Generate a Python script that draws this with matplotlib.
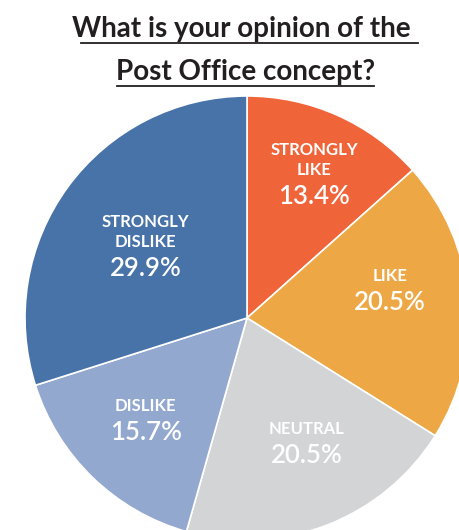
import numpy as np
import matplotlib.pyplot as plt

# Data
labels = ["STRONGLY\nLIKE", "LIKE", "NEUTRAL", "DISLIKE", "STRONGLY\nDISLIKE"]
shares = [13.4, 20.5, 20.5, 15.7, 29.9]
colors = ["#F0643A", "#EDA845", "#D3D4D6", "#93A8CF", "#4873A8"]
title_lines = ["What is your opinion of the", "Post Office concept?"]

# label placement: distance of the last label baseline (fraction of radius)
# and angle nudge from the wedge middle, in degrees
label_r = [0.711, 0.665, 0.588, 0.618, 0.557]
label_nudge = [-1, 9.6, 6, -3.4, 1.3]

plt.rcParams["font.family"] = ["Lato", "DejaVu Sans"]

fig = plt.figure(figsize=(4.59, 5.30), dpi=100)
W, H = 459, 530
cx, cy, R = 247, 318, 222
ax = fig.add_axes([(cx - R) / W, (H - cy - R) / H, 2 * R / W, 2 * R / H])

wedges, _ = ax.pie(shares, colors=colors, startangle=90, counterclock=False,
                   radius=1, wedgeprops=dict(edgecolor="white", linewidth=1.2))
ax.set_xlim(-1, 1)
ax.set_ylim(-1, 1)
ax.set_aspect("equal")
ax.axis("off")

pitch = 20.3 / R     # line pitch of the caption lines
gap = 29.0 / R       # caption baseline -> percent baseline
for w, lab, val, r, dn in zip(wedges, labels, shares, label_r, label_nudge):
    ang = np.deg2rad((w.theta1 + w.theta2) / 2 + dn)
    x, y = r * np.cos(ang), r * np.sin(ang)
    lines = lab.split("\n")
    for k, line in enumerate(lines):
        ax.text(x, y + (len(lines) - 1 - k) * pitch, line, ha="center",
                va="baseline", color="white", fontsize=12, fontweight="bold")
    ax.text(x, y - gap, f"{val}%", ha="center", va="baseline", color="white",
            fontsize=18.5, fontweight="semibold")

# Title with underlines
fig.text(241 / W, 1 - 37 / H, title_lines[0], ha="center", va="baseline",
         fontsize=20, fontweight="bold", color="#231F20")
fig.text(245.5 / W, 1 - 80 / H, title_lines[1], ha="center", va="baseline",
         fontsize=20, fontweight="bold", color="#231F20")
fig.add_artist(plt.Line2D([81 / W, 418 / W], [1 - 42.5 / H, 1 - 42.5 / H],
                          color="#231F20", lw=1.3))
fig.add_artist(plt.Line2D([117 / W, 374 / W], [1 - 85.5 / H, 1 - 85.5 / H],
                          color="#231F20", lw=1.3))

fig.savefig("out.png", dpi=100)
